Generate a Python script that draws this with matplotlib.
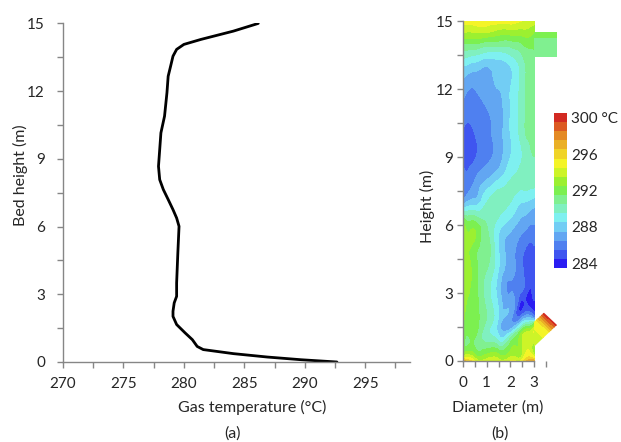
import numpy as np
import matplotlib
matplotlib.use("Agg")
import matplotlib.pyplot as plt
import matplotlib.tri as mtri
from matplotlib.colors import ListedColormap, BoundaryNorm
from matplotlib.patches import Polygon
from matplotlib.ticker import MultipleLocator
from matplotlib.cm import ScalarMappable

plt.rcParams['font.family'] = ['Lato', 'DejaVu Sans']
plt.rcParams['font.size'] = 11

# =============================================================================
# Panel (a): gas temperature along the bed height
# =============================================================================
gas_temp = [292.66, 289.7, 286.9, 284.1, 281.6, 281.1, 280.7, 280.1, 279.4, 279.1,
            279.1, 279.2, 279.4, 279.4, 279.5, 279.55, 279.6, 279.4, 279.1, 278.7,
            278.3, 278.0, 277.9, 278.0, 278.1, 278.4, 278.6, 278.7, 278.9, 279.1,
            279.4, 280.0, 281.4, 284.1, 286.15]
bed_height = [0.0, 0.10, 0.22, 0.37, 0.55, 0.69, 0.99, 1.29, 1.66, 2.02,
              2.25, 2.62, 2.91, 3.5, 4.83, 5.42, 6.01, 6.38, 6.75, 7.2,
              7.64, 8.08, 8.67, 9.41, 10.15, 10.89, 11.93, 12.66, 13.1, 13.55,
              13.85, 14.07, 14.29, 14.66, 15.0]

# =============================================================================
# Panel (b): temperature field in the column
# =============================================================================
diam = [0.0, 0.5, 1.0, 1.5, 2.0, 2.5, 3.0]
height = [0, 0.3, 1, 1.5, 2, 3, 4, 5, 6, 7, 8, 9, 10, 11, 12, 13, 13.5, 14, 14.5, 15]
field = [
    [297.0, 294.5, 294.0, 294.0, 294.5, 295.0, 297.0],   # 0
    [293.0, 292.5, 292.5, 292.5, 293.0, 293.5, 293.5],   # 0.3
    [292.0, 291.5, 290.0, 289.0, 290.5, 293.5, 294.0],   # 1
    [292.5, 292.0, 290.0, 288.0, 287.0, 290.5, 293.5],   # 1.5
    [293.0, 292.0, 290.5, 288.5, 287.0, 285.8, 285.6],   # 2
    [293.0, 292.0, 290.0, 288.0, 286.5, 285.3, 285.2],   # 3
    [293.0, 292.0, 290.5, 288.5, 287.0, 285.6, 285.2],   # 4
    [293.0, 292.0, 291.0, 288.5, 287.0, 285.8, 285.4],   # 5
    [293.0, 292.0, 290.5, 289.0, 288.0, 287.0, 286.5],   # 6
    [287.0, 288.0, 289.5, 290.0, 289.5, 288.5, 288.0],   # 7
    [286.0, 286.5, 287.5, 288.5, 289.5, 290.0, 290.0],   # 8
    [285.2, 285.4, 286.2, 287.0, 288.5, 289.5, 290.5],   # 9
    [285.3, 285.5, 286.2, 287.0, 288.5, 290.0, 291.0],   # 10
    [286.0, 286.0, 286.4, 287.0, 288.5, 290.0, 291.0],   # 11
    [287.0, 286.5, 287.0, 287.5, 288.5, 290.0, 291.0],   # 12
    [288.5, 288.0, 287.5, 288.0, 288.5, 290.0, 291.0],   # 13
    [290.0, 289.5, 289.0, 289.0, 289.5, 290.5, 291.0],   # 13.5
    [291.5, 291.5, 291.0, 291.0, 291.0, 291.5, 292.0],   # 14
    [293.5, 293.5, 293.5, 293.0, 293.0, 293.0, 292.5],   # 14.5
    [295.0, 295.0, 295.0, 295.0, 295.0, 294.5, 294.0],   # 15
]

# outlet duct at the top right
outlet_x = [3.0, 3.95]
outlet_y = [13.4, 14.0, 14.5]
outlet_temp = [[291.0, 291.0], [291.0, 291.0], [292.0, 292.0]]

# inlet pipe: distance inward from the pipe mouth, and across the pipe
pipe_s = [0.0, 0.1, 0.25, 0.45, 0.8, 1.4]
pipe_t = [0.0, 0.8]
pipe_temp = [[300.0, 300.0], [299.0, 299.0], [297.5, 297.5],
             [295.5, 295.5], [294.5, 294.5], [293.5, 293.5]]
pipe_outline = [(3.0, 1.73), (3.42, 2.13), (3.97, 1.59), (3.0, 0.63)]

band_colors = ['#2a1cf2', '#3f55f0', '#4f80f0', '#62a6f2', '#72cdf4', '#7ef0f0',
               '#80f0c0', '#80f090', '#7cf050', '#9cf030', '#cdf428', '#f4f428',
               '#f0d428', '#eab026', '#e48a24', '#dc5a22', '#d22a22']
levels = np.arange(283.5, 301.0, 1.0)
cmap = ListedColormap(band_colors)
norm = BoundaryNorm(levels, cmap.N)

axis_col = '#868686'
text_col = '#262626'

fig = plt.figure(figsize=(6.21, 4.42), dpi=100)

# ----------------------------------------------------------------------------- (a)
ax1 = fig.add_axes([0.1014, 0.181, 0.5588, 0.766])
ax1.plot(gas_temp, bed_height, color='black', linewidth=2.0, solid_capstyle='round')
ax1.set_xlim(270, 298.7)
ax1.set_ylim(0, 15)
ax1.set_xticks([270, 275, 280, 285, 290, 295])
ax1.xaxis.set_minor_locator(MultipleLocator(2.5))
ax1.yaxis.set_major_locator(MultipleLocator(3))
ax1.yaxis.set_minor_locator(MultipleLocator(1.5))

# ----------------------------------------------------------------------------- (b)
ax2 = fig.add_axes([0.7456, 0.1833, 0.1513, 0.769])
gx, gy = np.meshgrid(diam, height)
tri = mtri.Triangulation(gx.ravel(), gy.ravel())
refiner = mtri.UniformTriRefiner(tri)
fine_tri, fine_val = refiner.refine_field(np.array(field).ravel(), subdiv=3)
ax2.tricontourf(fine_tri, fine_val, levels=levels, cmap=cmap, norm=norm, extend='both')
ax2.contourf(outlet_x, outlet_y, outlet_temp, levels=levels, cmap=cmap, norm=norm)

mouth = np.array(pipe_outline[2])
along = np.array([-1.0, -1.0]) / np.sqrt(2)
across = np.array(pipe_outline[1]) - mouth
across = across / np.linalg.norm(across)
S, T = np.meshgrid(pipe_s, pipe_t, indexing='ij')
PX = mouth[0] + S * along[0] + T * across[0]
PY = mouth[1] + S * along[1] + T * across[1]
cs_pipe = ax2.contourf(PX, PY, pipe_temp, levels=levels, cmap=cmap, norm=norm)
clip = Polygon(pipe_outline, closed=True, transform=ax2.transData,
               facecolor='none', edgecolor='none')
ax2.add_patch(clip)
cs_pipe.set_clip_path(clip)

ax2.set_xlim(0, 3.97)
ax2.set_ylim(0, 15)
ax2.spines['bottom'].set_bounds(0, 3)
ax2.set_xticks([0, 1, 2, 3])
ax2.xaxis.set_minor_locator(MultipleLocator(0.5))
ax2.yaxis.set_major_locator(MultipleLocator(3))
ax2.yaxis.set_minor_locator(MultipleLocator(1.5))

for ax in (ax1, ax2):
    ax.spines['top'].set_visible(False)
    ax.spines['right'].set_visible(False)
    for side in ('left', 'bottom'):
        ax.spines[side].set_color(axis_col)
        ax.spines[side].set_linewidth(1.0)
    ax.tick_params(which='both', direction='out', color=axis_col, width=1.0, length=4)
    ax.tick_params(which='major', labelsize=11, labelcolor=text_col)
    ax.tick_params(axis='x', which='major', pad=7)
    ax.patch.set_visible(False)
ax1.tick_params(axis='y', which='major', pad=9)
ax2.tick_params(axis='y', which='major', pad=3)

# colour bar
cax = fig.add_axes([0.892, 0.3937, 0.021, 0.3507])
cb = fig.colorbar(ScalarMappable(norm=norm, cmap=cmap), cax=cax,
                  ticks=[284, 288, 292, 296, 300])
cb.outline.set_visible(False)
cb.ax.minorticks_off()
cb.ax.tick_params(which='both', length=0, labelsize=11, labelcolor=text_col, pad=3)
cb.ax.set_yticklabels(['284', '288', '292', '296', '300 °C'])

# axis titles and panel letters
fig.text(0.033, 0.604, 'Bed height (m)', rotation=90, ha='center', va='center',
         color=text_col, fontsize=11.5)
fig.text(0.406, 0.077, 'Gas temperature (°C)', ha='center', va='center',
         color=text_col, fontsize=11.5)
fig.text(0.374, 0.020, '(a)', ha='center', va='center', color=text_col, fontsize=11.5)
fig.text(0.688, 0.532, 'Height (m)', rotation=90, ha='center', va='center',
         color=text_col, fontsize=11.5)
fig.text(0.801, 0.079, 'Diameter (m)', ha='center', va='center', color=text_col,
         fontsize=11.5)
fig.text(0.805, 0.020, '(b)', ha='center', va='center', color=text_col, fontsize=11.5)

fig.savefig('out.png', dpi=100)
